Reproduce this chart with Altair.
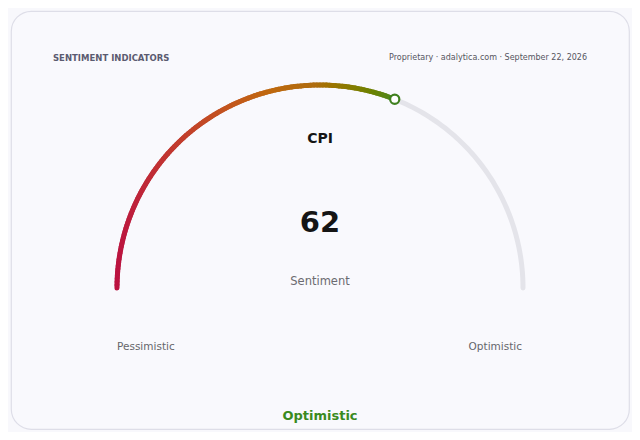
import math
import altair as alt
import pandas as pd

# ---- data ----
title_left = "SENTIMENT INDICATORS"
title_right = "Proprietary · adalytica.com · September 22, 2026"
indicator = "CPI"
value = 62
value_min = 0
value_max = 100
subtitle = "Sentiment"
low_label = "Pessimistic"
high_label = "Optimistic"
status_label = "Optimistic"
grad_colors = ["#bb1240", "#c0680e", "#ae6c10", "#4e861d"]
grad_stops = [0.0, 0.55, 0.72, 1.0]

W, H = 618, 418
CX, CY, R = 309, 141, 203
FONT = "DejaVu Sans"


def pos(t):
    a = math.pi * (1 - (t - value_min) / (value_max - value_min))
    return CX + R * math.cos(a), CY + R * math.sin(a)


step = 0.5
track_rows = []
n_track = int((value_max - value_min) / step)
for i in range(n_track + 1):
    t = value_min + i * step
    x, y = pos(t)
    track_rows.append({"t": t, "x": x, "y": y})
track = pd.DataFrame(track_rows)

seg_rows = []
n_seg = int((value - value_min) / step)
for i in range(n_seg):
    t0 = value_min + i * step
    t1 = min(value, t0 + step)
    x0, y0 = pos(t0)
    x1, y1 = pos(t1)
    seg_rows.append({"t": (t0 + t1) / 2, "xm": (x0 + x1) / 2,
                     "x": x0, "y": y0, "x2": x1, "y2": y1})
segs = pd.DataFrame(seg_rows)

mx, my = pos(value)
sx, _ = pos(value_min)
marker = pd.DataFrame([{"x": mx, "y": my}])

xs = alt.Scale(domain=[0, W], nice=False, zero=False)
ys = alt.Scale(domain=[0, H], nice=False, zero=False)

track_layer = alt.Chart(track).mark_line(
    color="#e4e4ea", strokeWidth=5, strokeCap="round"
).encode(
    x=alt.X("x:Q", scale=xs, axis=None),
    y=alt.Y("y:Q", scale=ys, axis=None),
    order="t:Q",
)

grad_layer = alt.Chart(segs).mark_rule(strokeWidth=5, strokeCap="round").encode(
    x=alt.X("x:Q", scale=xs, axis=None),
    y=alt.Y("y:Q", scale=ys, axis=None),
    x2="x2:Q",
    y2="y2:Q",
    color=alt.Color(
        "xm:Q",
        scale=alt.Scale(domain=[sx + f * (mx - sx) for f in grad_stops],
                        range=grad_colors),
        legend=None,
    ),
)

marker_layer = alt.Chart(marker).mark_point(
    shape="circle", filled=True, fill="#ffffff", stroke="#3f801f",
    strokeWidth=2.2, size=85, opacity=1,
).encode(
    x=alt.X("x:Q", scale=xs, axis=None),
    y=alt.Y("y:Q", scale=ys, axis=None),
)

dummy = pd.DataFrame([{"a": 0}])


def txt(text, x, y, size, color, weight="normal", align="center"):
    return alt.Chart(dummy).mark_text(
        text=text, font=FONT, fontSize=size, fontWeight=weight, color=color,
        align=align, baseline="middle",
    ).encode(x=alt.value(x), y=alt.value(y))


texts = [
    txt(title_left, 42, 47, 8.5, "#5b5b70", "bold", "left"),
    txt(title_right, 576, 47, 8, "#555560", "normal", "right"),
    txt(indicator, 309, 128, 14, "#151515", "bold"),
    txt(str(value), 309, 212, 29, "#151515", "bold"),
    txt(subtitle, 309, 271, 11.5, "#6b6b70"),
    txt(low_label, 106, 336, 10.5, "#66666b", "normal", "left"),
    txt(high_label, 511, 336, 10.5, "#66666b", "normal", "right"),
    txt(status_label, 309, 405, 13, "#3a8a1e", "bold"),
]

chart = alt.layer(track_layer, grad_layer, marker_layer, *texts).properties(
    width=W, height=H,
    background="#f8f8fc",
    padding={"left": 3, "top": 3, "right": 3, "bottom": 3},
    autosize=alt.AutoSizeParams(type="none"),
).configure_view(
    fill="#f9f9fd", stroke="#dedee8", strokeWidth=1.2, cornerRadius=20,
)

chart.save("out.html", embed_options={"renderer": "svg", "actions": False})
